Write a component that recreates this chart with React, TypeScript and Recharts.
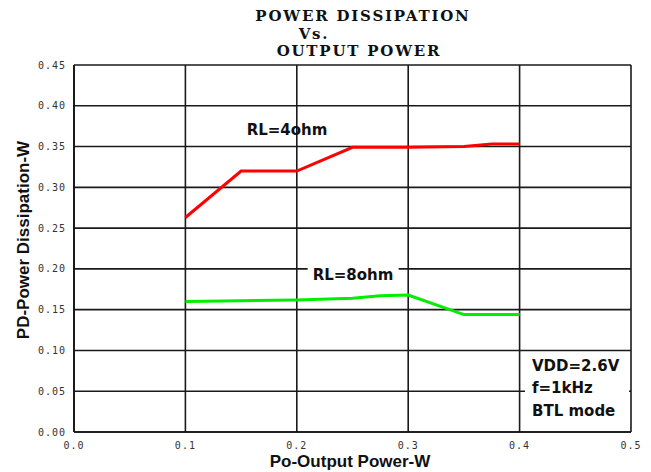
import { LineChart, Line, XAxis, YAxis, CartesianGrid } from 'recharts';

const xTicks = [0, 0.1, 0.2, 0.3, 0.4, 0.5];
const yTicks = [0, 0.05, 0.1, 0.15, 0.2, 0.25, 0.3, 0.35, 0.4, 0.45];

const rl4X = [0.1, 0.15, 0.2, 0.25, 0.3, 0.35, 0.375, 0.4];
const rl4Y = [0.263, 0.32, 0.32, 0.349, 0.349, 0.35, 0.353, 0.353];

const rl8X = [0.1, 0.15, 0.2, 0.25, 0.275, 0.3, 0.35, 0.4];
const rl8Y = [0.16, 0.161, 0.162, 0.164, 0.167, 0.168, 0.144, 0.144];

const rl4 = rl4X.map((x, i) => ({ x, pd: rl4Y[i] }));
const rl8 = rl8X.map((x, i) => ({ x, pd: rl8Y[i] }));

const tickStyle = { fill: '#333', fontSize: 10, fontFamily: 'DejaVu Sans Mono', letterSpacing: 1 };
const noteFont = { fontFamily: 'DejaVu Sans', fontWeight: 700, fontSize: 15, color: '#111' };
const titleFont = { fontFamily: 'DejaVu Serif', fontWeight: 700, fontSize: 15, letterSpacing: 1.8, color: '#111' };
const axisFont = { fontFamily: 'Liberation Sans, Arial', fontWeight: 700, fontSize: 17, color: '#111' };

function At({ x, y, style, children }: { x: number; y: number; style: any; children: any }) {
  return (
    <div
      style={{
        position: 'absolute',
        left: x,
        top: y,
        transform: 'translate(-50%, -50%)',
        whiteSpace: 'nowrap',
        lineHeight: 1,
        ...style,
      }}
    >
      {children}
    </div>
  );
}

export default function App() {
  return (
    <div style={{ position: 'absolute', left: 0, top: 0, width: 651, height: 472, background: '#fff' }}>
      <LineChart width={651} height={472} margin={{ top: 65, right: 20, bottom: 0, left: 14 }}>
        <CartesianGrid stroke="#1a1a1a" strokeWidth={1.6} />
        <XAxis
          type="number"
          dataKey="x"
          domain={[0, 0.5]}
          ticks={xTicks}
          tickFormatter={(v: number) => v.toFixed(1)}
          tick={tickStyle}
          tickLine={false}
          axisLine={{ stroke: '#111', strokeWidth: 1.6 }}
          height={40}
          tickMargin={4}
          allowDuplicatedCategory={false}
        />
        <YAxis
          type="number"
          domain={[0, 0.45]}
          ticks={yTicks}
          tickFormatter={(v: number) => v.toFixed(2)}
          tick={tickStyle}
          tickLine={false}
          axisLine={{ stroke: '#111', strokeWidth: 1.6 }}
          width={60}
        />
        <Line data={rl4} dataKey="pd" type="linear" stroke="#ff0000" strokeWidth={3} dot={false} isAnimationActive={false} />
        <Line data={rl8} dataKey="pd" type="linear" stroke="#00ee00" strokeWidth={3} dot={false} isAnimationActive={false} />
      </LineChart>

      <At x={363} y={16} style={titleFont}>POWER DISSIPATION</At>
      <At x={314} y={34} style={titleFont}>Vs.</At>
      <At x={359} y={51} style={titleFont}>OUTPUT POWER</At>

      <At x={287} y={130} style={noteFont}>RL=4ohm</At>
      <At x={353} y={275} style={{ ...noteFont, background: '#fff', padding: '2px 5px' }}>RL=8ohm</At>

      <div
        style={{
          position: 'absolute',
          left: 525,
          top: 353,
          width: 104,
          height: 77,
          background: '#fff',
          ...noteFont,
        }}
      >
        <div style={{ position: 'absolute', left: 7, top: 4 }}>VDD=2.6V</div>
        <div style={{ position: 'absolute', left: 7, top: 26 }}>f=1kHz</div>
        <div style={{ position: 'absolute', left: 7, top: 49 }}>BTL mode</div>
      </div>

      <At x={350} y={461} style={axisFont}>Po-Output Power-W</At>
      <At x={23} y={240} style={{ ...axisFont, transform: 'translate(-50%, -50%) rotate(-90deg)' }}>
        PD-Power Dissipation-W
      </At>
    </div>
  );
}
